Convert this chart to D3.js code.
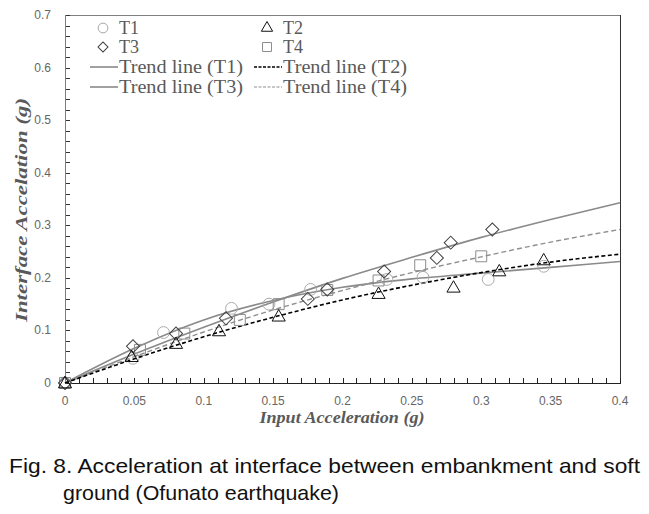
<!DOCTYPE html>
<html><head><meta charset="utf-8">
<script src="https://cdn.jsdelivr.net/npm/d3@7"></script>
<style>body{margin:0;background:#fff}svg{display:block}</style>
</head><body><svg id="c" width="649" height="514"></svg>
<script>
// ---- data ----
const t1X = [0, 0.049, 0.071, 0.12, 0.147, 0.177, 0.232, 0.258, 0.305, 0.345];
const t1Y = [0, 0.047, 0.096, 0.142, 0.150, 0.178, 0.197, 0.201, 0.197, 0.222];
const t2X = [0, 0.048, 0.080, 0.111, 0.154, 0.226, 0.280, 0.313, 0.345];
const t2Y = [0, 0.050, 0.075, 0.099, 0.127, 0.170, 0.182, 0.213, 0.234];
const t3X = [0, 0.049, 0.080, 0.116, 0.175, 0.189, 0.230, 0.268, 0.278, 0.308];
const t3Y = [0, 0.070, 0.094, 0.123, 0.160, 0.178, 0.212, 0.238, 0.267, 0.292];
const t4X = [0, 0.054, 0.086, 0.126, 0.154, 0.189, 0.226, 0.256, 0.300];
const t4Y = [0, 0.063, 0.094, 0.120, 0.150, 0.177, 0.195, 0.224, 0.241];
const trendX  = [0, 0.05, 0.1, 0.15, 0.2, 0.25, 0.3, 0.35, 0.4];
const trendT1 = [0, 0.066, 0.120, 0.157, 0.182, 0.198, 0.209, 0.220, 0.231];
const trendT2 = [0, 0.046, 0.088, 0.125, 0.158, 0.186, 0.210, 0.230, 0.245];
const trendT3 = [0, 0.055, 0.106, 0.154, 0.199, 0.239, 0.277, 0.311, 0.343];
const trendT4 = [0, 0.050, 0.097, 0.139, 0.176, 0.210, 0.240, 0.268, 0.292];
const xTicks = [0, 0.05, 0.1, 0.15, 0.2, 0.25, 0.3, 0.35, 0.4];
const xTickLabels = ["0","0.05","0.1","0.15","0.2","0.25","0.3","0.35","0.4"];
const yTicks = [0, 0.1, 0.2, 0.3, 0.4, 0.5, 0.6, 0.7];
const yTickLabels = ["0","0.1","0.2","0.3","0.4","0.5","0.6","0.7"];
const legendLabels = ["T1","T2","T3","T4","Trend line (T1)","Trend line (T2)","Trend line (T3)","Trend line (T4)"];
const xTitle = "Input Acceleration (g)";
const yTitle = "Interface Accelation (g)";
const caption1 = "Fig. 8. Acceleration at interface between embankment and soft";
const caption2 = "ground (Ofunato earthquake)";

// ---- layout ----
const svg = d3.select("#c");
const L = 65, R = 620, T = 15, B = 383;
const x = d3.scaleLinear().domain([0, 0.4]).range([L, R]);
const y = d3.scaleLinear().domain([0, 0.7]).range([B, T]);

// frame: top and right
svg.append("line").attr("x1", L).attr("x2", R).attr("y1", T + 0.5).attr("y2", T + 0.5).attr("stroke", "#7f7f7f");
svg.append("line").attr("x1", R + 0.5).attr("x2", R + 0.5).attr("y1", T).attr("y2", B).attr("stroke", "#333");

// minor ticks inward
const xMinor = d3.range(0, 41).map(i => i / 100);
const yMinor = d3.range(0, 36).map(i => i / 50);
svg.append("g").selectAll("line").data(xMinor).join("line")
  .attr("x1", d => Math.round(x(d)) + 0.5).attr("x2", d => Math.round(x(d)) + 0.5)
  .attr("y1", B).attr("y2", B - 5).attr("stroke", "#222");
svg.append("g").selectAll("line").data(yMinor).join("line")
  .attr("y1", d => Math.round(y(d)) + 0.5).attr("y2", d => Math.round(y(d)) + 0.5)
  .attr("x1", L).attr("x2", L + 5).attr("stroke", "#333");

// axes lines
svg.append("line").attr("x1", L + 0.5).attr("x2", L + 0.5).attr("y1", T).attr("y2", B).attr("stroke", "#7f7f7f");
svg.append("line").attr("x1", L).attr("x2", R + 1).attr("y1", B + 0.5).attr("y2", B + 0.5).attr("stroke", "#222");

// tick labels
svg.append("g").selectAll("text").data(xTicks).join("text")
  .attr("x", d => x(d)).attr("y", 405).attr("text-anchor", "middle")
  .attr("font-family", "Liberation Sans, Arial, sans-serif").attr("font-size", 12).attr("fill", "#666")
  .text((d, i) => xTickLabels[i]);
svg.append("g").selectAll("text").data(yTicks).join("text")
  .attr("x", 51).attr("y", d => y(d) + 4).attr("text-anchor", "end")
  .attr("font-family", "Liberation Sans, Arial, sans-serif").attr("font-size", 12).attr("fill", "#666")
  .text((d, i) => yTickLabels[i]);

// axis titles
svg.append("text").attr("x", 342).attr("y", 423).attr("text-anchor", "middle")
  .attr("font-family", "Liberation Serif, Times New Roman, serif").attr("font-weight", "bold").attr("font-style", "italic")
  .attr("font-size", 16).attr("fill", "#595959").attr("textLength", 165).attr("lengthAdjust", "spacingAndGlyphs").text(xTitle);
svg.append("text").attr("transform", "translate(27,210) rotate(-90)").attr("text-anchor", "middle")
  .attr("font-family", "Liberation Serif, Times New Roman, serif").attr("font-weight", "bold").attr("font-style", "italic")
  .attr("font-size", 16).attr("fill", "#595959").attr("textLength", 224).attr("lengthAdjust", "spacingAndGlyphs").text(yTitle);

// trend lines
const line = d3.line().x(d => x(d[0])).y(d => y(d[1])).curve(d3.curveMonotoneX);
const trends = [
  {v: trendT1, c: "#8a8a8a", dash: null, w: 1.6},
  {v: trendT3, c: "#8a8a8a", dash: null, w: 1.6},
  {v: trendT4, c: "#8f8f8f", dash: "5,3", w: 1.4},
  {v: trendT2, c: "#000", dash: "4,2.5", w: 1.6}
];
trends.forEach(t => {
  svg.append("path").datum(trendX.map((d, i) => [d, t.v[i]]))
    .attr("d", line).attr("fill", "none").attr("stroke", t.c).attr("stroke-width", t.w)
    .attr("stroke-dasharray", t.dash);
});

// markers
const shapes = {
  circle: d3.symbol().type(d3.symbolCircle).size(110),
  triangle: d3.symbol().type(d3.symbolTriangle).size(75),
  diamond: d3.symbol().type(d3.symbolSquare).size(85),
  square: d3.symbol().type(d3.symbolSquare).size(120)
};
const series = [
  {xs: t1X, ys: t1Y, s: "circle", c: "#ababab", rot: 0},
  {xs: t4X, ys: t4Y, s: "square", c: "#8c8c8c", rot: 0},
  {xs: t3X, ys: t3Y, s: "diamond", c: "#404040", rot: 45},
  {xs: t2X, ys: t2Y, s: "triangle", c: "#111", rot: 0}
];
series.forEach(sr => {
  svg.append("g").selectAll("path").data(sr.xs.map((d, i) => [d, sr.ys[i]])).join("path")
    .attr("d", shapes[sr.s]())
    .attr("transform", d => `translate(${x(d[0])},${y(d[1]) + (sr.s === "triangle" ? 1 : 0)}) rotate(${sr.rot})`)
    .attr("fill", "none").attr("stroke", sr.c).attr("stroke-width", 1);
});

// legend
const lg = svg.append("g");
const lf = "Liberation Serif, Times New Roman, serif";
const rowsY = [28, 47, 67, 87];
const colMark = [103, 267];
const colText = [119, 283];
const legMarks = [
  {s: "circle", c: "#a6a6a6", rot: 0, col: 0, row: 0},
  {s: "triangle", c: "#111", rot: 0, col: 1, row: 0},
  {s: "diamond", c: "#404040", rot: 45, col: 0, row: 1},
  {s: "square", c: "#8c8c8c", rot: 0, col: 1, row: 1}
];
const legSym = {
  circle: d3.symbol().type(d3.symbolCircle).size(75),
  triangle: d3.symbol().type(d3.symbolTriangle).size(55),
  diamond: d3.symbol().type(d3.symbolSquare).size(50),
  square: d3.symbol().type(d3.symbolSquare).size(80)
};
legMarks.forEach((m, i) => {
  lg.append("path").attr("d", legSym[m.s]())
    .attr("transform", `translate(${colMark[m.col]},${rowsY[m.row]}) rotate(${m.rot})`)
    .attr("fill", "none").attr("stroke", m.c);
  lg.append("text").attr("x", colText[m.col]).attr("y", rowsY[m.row] + 6)
    .attr("font-family", lf).attr("font-size", 18).attr("fill", "#595959")
    .attr("textLength", 20).attr("lengthAdjust", "spacingAndGlyphs").text(legendLabels[i]);
});
const legLines = [
  {c: "#8a8a8a", dash: null, col: 0, row: 2, w: 1.6},
  {c: "#000", dash: "3,1.5", col: 1, row: 2, w: 1.6},
  {c: "#8a8a8a", dash: null, col: 0, row: 3, w: 1.6},
  {c: "#8f8f8f", dash: "3,1.5", col: 1, row: 3, w: 1.2}
];
legLines.forEach((m, i) => {
  const x0 = m.col === 0 ? 90 : 254;
  lg.append("line").attr("x1", x0).attr("x2", x0 + 28).attr("y1", rowsY[m.row]).attr("y2", rowsY[m.row])
    .attr("stroke", m.c).attr("stroke-width", m.w).attr("stroke-dasharray", m.dash);
  lg.append("text").attr("x", colText[m.col]).attr("y", rowsY[m.row] + 6)
    .attr("font-family", lf).attr("font-size", 18).attr("fill", "#595959")
    .attr("textLength", 124).attr("lengthAdjust", "spacingAndGlyphs").text(legendLabels[4 + i]);
});

// caption
const cf = "Liberation Sans, Arial, sans-serif";
svg.append("text").attr("x", 9).attr("y", 473).attr("font-family", cf).attr("font-size", 21).attr("fill", "#111")
  .attr("textLength", 631).attr("lengthAdjust", "spacingAndGlyphs").text(caption1);
svg.append("text").attr("x", 63).attr("y", 500).attr("font-family", cf).attr("font-size", 21).attr("fill", "#111")
  .attr("textLength", 276).attr("lengthAdjust", "spacingAndGlyphs").text(caption2);
</script></body></html>
